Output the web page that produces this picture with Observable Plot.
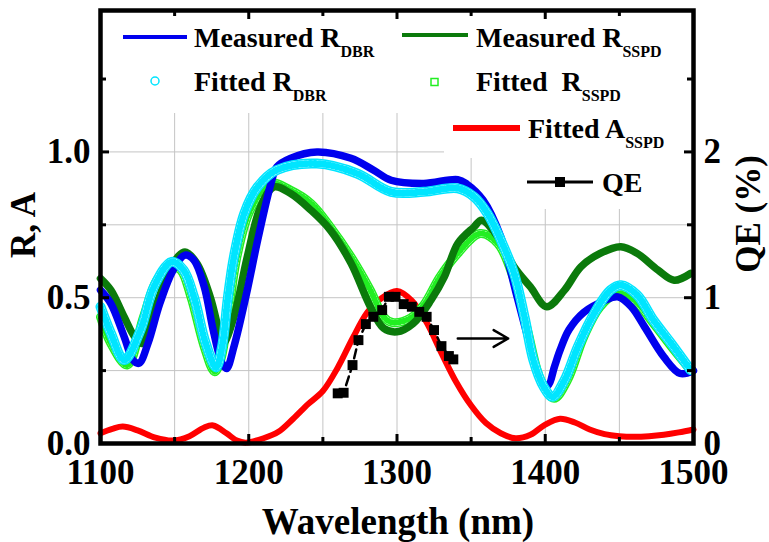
<!DOCTYPE html>
<html><head><meta charset="utf-8">
<script src="https://cdn.jsdelivr.net/npm/d3@7"></script>
<script src="https://cdn.jsdelivr.net/npm/@observablehq/plot@0.6"></script>
<style>
body{margin:0;background:#fff;}
#chart{width:769px;height:542px;}
</style></head><body><div id="chart"></div>
<script>
// ---- data ----
const blueNm = [1100,1107,1116,1122,1126,1132,1140,1149,1157,1163,1170,1176,1182,1185,1190,1199,1206,1215,1219,1228,1246,1269,1284,1296,1318,1341,1347,1358,1370,1381,1390,1398,1402,1406,1410,1416,1426,1440,1449,1458,1467,1480,1491,1500];
const blueR  = [0.526,0.48,0.366,0.286,0.275,0.343,0.48,0.595,0.646,0.629,0.537,0.389,0.275,0.257,0.332,0.526,0.697,0.892,0.949,0.978,1.0,0.978,0.938,0.903,0.892,0.905,0.89,0.835,0.709,0.503,0.332,0.206,0.20,0.26,0.32,0.39,0.45,0.49,0.503,0.469,0.40,0.297,0.24,0.25];

const cyanNm = [1100,1107,1116,1127,1136,1148,1156,1163,1171,1178,1182,1186,1190,1197,1206,1219,1246,1273,1296,1318,1341,1352,1361,1370,1379,1386,1392,1399,1405,1413,1422,1433,1444,1451,1462,1473,1485,1498];
const cyanR  = [0.469,0.378,0.286,0.389,0.537,0.623,0.595,0.503,0.343,0.261,0.332,0.503,0.64,0.789,0.88,0.938,0.96,0.926,0.863,0.863,0.875,0.846,0.789,0.698,0.583,0.434,0.286,0.194,0.16,0.217,0.332,0.446,0.526,0.543,0.509,0.423,0.343,0.252];

const greenNm = [1100,1107,1116,1123,1128,1138,1149,1157,1165,1174,1181,1183,1190,1199,1208,1217,1228,1242,1255,1269,1282,1291,1300,1311,1323,1332,1341,1352,1357,1368,1379,1390,1401,1413,1424,1437,1451,1462,1476,1487,1498];
const greenR  = [0.566,0.526,0.434,0.366,0.343,0.48,0.618,0.657,0.618,0.503,0.366,0.343,0.434,0.64,0.812,0.88,0.858,0.80,0.732,0.618,0.469,0.395,0.383,0.412,0.492,0.572,0.686,0.743,0.766,0.709,0.606,0.537,0.469,0.526,0.606,0.652,0.675,0.652,0.595,0.56,0.583];

const limeNm = [1100,1107,1118,1129,1138,1147,1154,1161,1170,1177,1181,1186,1192,1201,1215,1228,1242,1255,1269,1282,1291,1297,1309,1318,1329,1341,1356,1368,1379,1388,1397,1406,1415,1426,1437,1449,1460,1473,1487,1498];
const limeR  = [0.434,0.343,0.269,0.434,0.56,0.606,0.595,0.503,0.332,0.246,0.286,0.434,0.64,0.80,0.892,0.869,0.823,0.743,0.64,0.526,0.434,0.415,0.43,0.475,0.572,0.652,0.72,0.686,0.56,0.389,0.217,0.155,0.217,0.366,0.469,0.515,0.492,0.412,0.32,0.252];

const absNm = [1100,1108,1115,1125,1137,1149,1160,1170,1176,1185,1192,1198,1210,1220,1230,1240,1250,1260,1270,1280,1290,1300,1310,1320,1330,1340,1350,1360,1370,1380,1390,1400,1410,1420,1430,1440,1450,1460,1470,1480,1490,1500];
const absA  = [0.035,0.05,0.058,0.045,0.02,0.01,0.025,0.055,0.062,0.035,0.01,0.003,0.018,0.04,0.085,0.135,0.18,0.26,0.36,0.45,0.50,0.523,0.49,0.415,0.31,0.21,0.13,0.07,0.035,0.018,0.03,0.065,0.085,0.072,0.048,0.032,0.025,0.023,0.025,0.03,0.038,0.048];

const qeNm  = [1260,1264,1270,1274,1279,1284,1290,1294.5,1299,1304.5,1310,1315,1320,1325,1330,1335,1338];
const qePct = [0.344,0.348,0.538,0.709,0.819,0.869,0.915,1.006,1.006,0.956,0.938,0.903,0.869,0.778,0.668,0.60,0.577];

const arrowNm = [1341, 1375];
const arrowR = 0.36;

const xLabels = [1100,1200,1300,1400,1500];
const xMajor = [1200,1300,1400];
const xMinor = [1150,1250,1350,1450];
const xGrid = [1150,1200,1250,1300,1350,1400,1450];
const yLabels = [0,0.5,1.0];
const yMajor = [0.5,1.0];
const yMinor = [0.25,0.75,1.25];
const yGrid = [0.25,0.5,0.75,1.0,1.25];

// ---- layout ----
const W = 769, H = 542, mL = 100, mR = 76, mT = 10, mB = 99;
const plotW = W - mL - mR, plotH = H - mT - mB;
const font = "'Liberation Serif','Times New Roman',serif";
const rows = (xs, ys) => xs.map((x, i) => ({x, y: ys[i]}));
const blue = rows(blueNm, blueR), cyan = rows(cyanNm, cyanR), green = rows(greenNm, greenR),
      lime = rows(limeNm, limeR), absorb = rows(absNm, absA), qe = rows(qeNm, qePct);
const C = "catmull-rom";

function chain(data, color, w, dash) {
  return [
    Plot.line(data, {x: "x", y: "y", curve: C, stroke: color, strokeWidth: w}),
    Plot.line(data, {x: "x", y: "y", curve: C, stroke: "white", strokeWidth: w - 3}),
    Plot.line(data, {x: "x", y: "y", curve: C, stroke: color, strokeWidth: w - 3, strokeDasharray: dash})
  ];
}

const plot = Plot.plot({
  width: W, height: H, marginLeft: mL, marginRight: mR, marginTop: mT, marginBottom: mB,
  style: {fontFamily: font, fontWeight: "bold", fontSize: "35px", background: "white", color: "black"},
  x: {domain: [1100, 1500]},
  y: {domain: [0, 1.485]},
  marks: [
    Plot.gridX(xGrid, {stroke: "#c4c4c4", strokeOpacity: 1, strokeWidth: 1}),
    Plot.gridY(yGrid, {stroke: "#c4c4c4", strokeOpacity: 1, strokeWidth: 1}),
    Plot.line(absorb, {x: "x", y: "y", curve: C, stroke: "#ff0000", strokeWidth: 6}),
    ...chain(lime, "#22ee22", 9, "1,3.2"),
    Plot.line(green, {x: "x", y: "y", curve: C, stroke: "#0b7a0b", strokeWidth: 7.5}),
    Plot.line(blue, {x: "x", y: "y", curve: C, stroke: "#0000ee", strokeWidth: 7.5}),
    ...chain(cyan, "#00e5ff", 10, "1.1,3.4"),
    Plot.line(qe, {x: "x", y: d => d.y / 2, stroke: "black", strokeWidth: 2.5, strokeDasharray: "9,5"}),
    Plot.dot(qe, {x: "x", y: d => d.y / 2, symbol: "square", fill: "black", r: 5.6}),
    Plot.arrow([{x1: arrowNm[0], x2: arrowNm[1], y: arrowR}], {x1: "x1", x2: "x2", y1: "y", y2: "y", bend: 0, stroke: "black", strokeWidth: 2.5, headLength: 12}),
    Plot.frame({stroke: "black", strokeWidth: 4.5}),
    Plot.ruleX(xMajor, {insetTop: plotH - 9, stroke: "black", strokeWidth: 3}),
    Plot.ruleX(xMinor, {insetTop: plotH - 6, stroke: "black", strokeWidth: 3}),
    Plot.ruleX(xMajor, {insetBottom: plotH - 9, stroke: "black", strokeWidth: 3}),
    Plot.ruleX(xMinor, {insetBottom: plotH - 6, stroke: "black", strokeWidth: 3}),
    Plot.ruleY(yMajor, {insetRight: plotW - 9, stroke: "black", strokeWidth: 3}),
    Plot.ruleY(yMinor, {insetRight: plotW - 6, stroke: "black", strokeWidth: 3}),
    Plot.ruleY(yMajor, {insetLeft: plotW - 9, stroke: "black", strokeWidth: 3}),
    Plot.ruleY(yMinor, {insetLeft: plotW - 6, stroke: "black", strokeWidth: 3}),
    Plot.axisX({ticks: xLabels, tickFormat: d => String(d), tickSize: 0, tickPadding: 16, fontSize: 35, label: null}),
    Plot.axisY({ticks: yLabels, tickFormat: d => d.toFixed(1), tickSize: 0, tickPadding: 10, fontSize: 35, label: null}),
    Plot.axisY({anchor: "right", ticks: yLabels, tickFormat: d => String(d * 2), tickSize: 0, tickPadding: 10, fontSize: 35, label: null})
  ]
});
document.getElementById("chart").appendChild(plot);

// ---- legend background (hides grid behind the legend) ----
const NS = "http://www.w3.org/2000/svg";
const grid = plot.querySelector('[aria-label="y-grid"]');
const bg = document.createElementNS(NS, "g");
grid.parentNode.insertBefore(bg, grid.nextSibling);
[[103, 13, 588, 100], [444, 113, 247, 45], [515, 157, 176, 52]].forEach(([x, y, w, h]) =>
  d3.select(bg).append("rect").attr("x", x).attr("y", y).attr("width", w).attr("height", h).attr("fill", "white"));

// ---- legend + titles ----
const svg = d3.select(plot);
const fg = svg.append("g").attr("font-family", font).attr("font-weight", "bold").attr("fill", "black").attr("text-anchor", "start");
function ltext(x, y, main, sub) {
  const t = fg.append("text").attr("x", x).attr("y", y).attr("font-size", 28).attr("text-anchor", "start").style("white-space", "pre");
  t.append("tspan").text(main);
  if (sub) t.append("tspan").attr("font-size", 16).attr("dy", 10).text(sub);
}
fg.append("line").attr("x1", 123).attr("x2", 187).attr("y1", 37).attr("y2", 37).attr("stroke", "#0000ee").attr("stroke-width", 4);
ltext(194, 47, "Measured R", "DBR");
fg.append("line").attr("x1", 402).attr("x2", 468).attr("y1", 35).attr("y2", 35).attr("stroke", "#0b7a0b").attr("stroke-width", 4);
ltext(476, 47, "Measured R", "SSPD");
fg.append("circle").attr("cx", 155).attr("cy", 81).attr("r", 4).attr("fill", "none").attr("stroke", "#00e5ff").attr("stroke-width", 1.5);
ltext(194, 91, "Fitted R", "DBR");
fg.append("rect").attr("x", 431).attr("y", 78.5).attr("width", 7).attr("height", 7).attr("fill", "none").attr("stroke", "#22ee22").attr("stroke-width", 1.5);
ltext(476, 91, "Fitted  R", "SSPD");
fg.append("line").attr("x1", 453).attr("x2", 520).attr("y1", 128).attr("y2", 128).attr("stroke", "#ff0000").attr("stroke-width", 6);
ltext(528, 138, "Fitted A", "SSPD");
fg.append("line").attr("x1", 527).attr("x2", 593).attr("y1", 182).attr("y2", 182).attr("stroke", "black").attr("stroke-width", 3);
fg.append("rect").attr("x", 555).attr("y", 177).attr("width", 10).attr("height", 10).attr("fill", "black");
ltext(602, 192, "QE", null);

fg.append("text").attr("transform", "translate(35,225) rotate(-90)").attr("text-anchor", "middle").attr("font-size", 35).text("R, A");
fg.append("text").attr("transform", "translate(760,214) rotate(-90)").attr("text-anchor", "middle").attr("font-size", 35).text("QE (%)");
fg.append("text").attr("x", 398).attr("y", 534).attr("text-anchor", "middle").attr("font-size", 37).text("Wavelength (nm)");
</script>
</body></html>
